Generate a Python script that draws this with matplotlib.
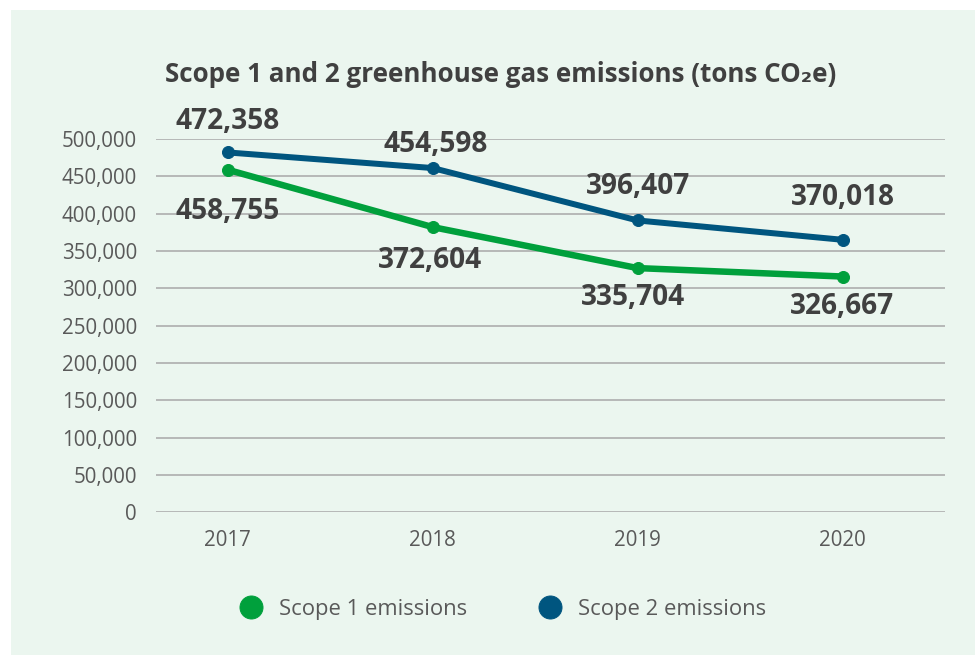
import numpy as np
import matplotlib.pyplot as plt
from matplotlib.patches import Rectangle
from matplotlib.lines import Line2D

plt.rcParams['font.family'] = ['Open Sans', 'DejaVu Sans']

years = ['2017', '2018', '2019', '2020']
# plotted positions
scope1 = [458800, 382000, 327100, 315800]
scope2 = [482000, 461100, 390900, 365000]
# value labels as printed
scope1_lbl = ['458,755', '372,604', '335,704', '326,667']
scope2_lbl = ['472,358', '454,598', '396,407', '370,018']
yticks = np.arange(0, 500001, 50000)

green = '#00A03C'
blue = '#00557F'
txt = '#404040'

fig = plt.figure(figsize=(975/72, 655/72), dpi=72)
fig.patches.append(Rectangle((11/975, 0), 1, 1 - 10/655, transform=fig.transFigure,
                             facecolor='#EBF6EF', edgecolor='none', zorder=-10))

ax = fig.add_axes([156/975, (655-512.3)/655, (945-156)/975, (512.3-139)/655])
ax.set_facecolor('none')
x = np.arange(len(years))

ax.plot(x, scope1, color=green, lw=6.5, marker='o', ms=12, solid_capstyle='round', zorder=3)
ax.plot(x, scope2, color=blue, lw=6, marker='o', ms=12, solid_capstyle='round', zorder=3)

# label offsets (pixels) above/below each point
off1 = [-42, -33, -29, -30]
off2 = [31, 24, 34, 42]
dx1 = [0, -3, -5, -1]
dx2 = [0, 3, 0, 0]
for i in range(len(years)):
    ax.annotate(scope1_lbl[i], (x[i], scope1[i]), xytext=(dx1[i], off1[i]),
                textcoords='offset points', ha='center', va='center',
                fontsize=28, fontweight='bold', color=txt)
    ax.annotate(scope2_lbl[i], (x[i], scope2[i]), xytext=(dx2[i], off2[i]),
                textcoords='offset points', ha='center', va='center',
                fontsize=28, fontweight='bold', color=txt)

ax.set_xlim(-0.35, 3.5)
ax.set_ylim(0, 500000)
ax.set_yticks(yticks)
ax.set_yticklabels([f'{v:,}' for v in yticks])
ax.set_xticks(x)
ax.set_xticklabels(years)
ax.grid(axis='y', color='#A6A6A6', lw=1.5)
ax.set_axisbelow(True)
ax.tick_params(length=0, labelsize=20.5, colors='#595959')
ax.tick_params(axis='y', pad=19)
ax.tick_params(axis='x', pad=18)
for s in ax.spines.values():
    s.set_visible(False)

fig.text(501/975, 1 - 75/655, 'Scope 1 and 2 greenhouse gas emissions (tons CO₂e)',
         ha='center', va='center', fontsize=26, fontweight='bold', color=txt)

handles = [Line2D([], [], ls='none', marker='o', ms=23, color=green),
           Line2D([], [], ls='none', marker='o', ms=23, color=blue)]
fig.legend(handles, ['Scope 1 emissions', 'Scope 2 emissions'], loc='center',
           bbox_to_anchor=(503/975, 1 - 609/655), ncol=2, frameon=False,
           fontsize=22, labelcolor='#595959', handlelength=1, handletextpad=0.75,
           columnspacing=3.3)

fig.savefig('out.png', dpi=72)
